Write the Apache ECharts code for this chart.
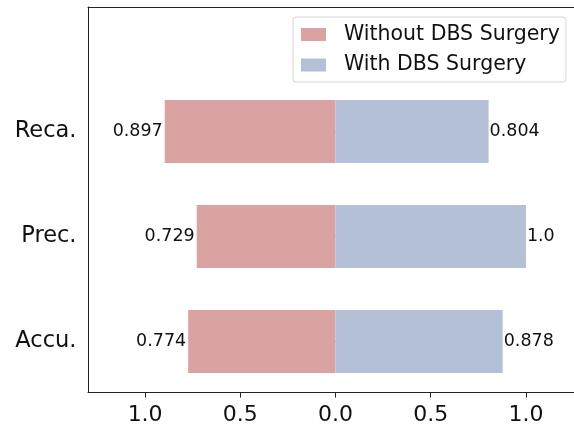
<!DOCTYPE html>
<html>
<head>
<meta charset="utf-8">
<script src="https://cdn.jsdelivr.net/npm/echarts@6/dist/echarts.min.js"></script>
<style>html,body{margin:0;padding:0;background:#fff;}#c{width:574px;height:426px;}</style>
</head>
<body>
<div id="c"></div>
<script>
var categories = ['Accu.', 'Prec.', 'Reca.'];
var withoutDBS = [0.774, 0.729, 0.897];
var withDBS = [0.878, 1.0, 0.804];
var xTicks = [-1, -0.5, 0, 0.5, 1];
var seriesNames = ['Without DBS Surgery', 'With DBS Surgery'];

var FONT = 'DejaVu Sans';
var X_MIN = -1.3, X_MAX = 1.2525;
function fmtVal(v) {
  v = Math.abs(v);
  var s = String(v);
  if (s.indexOf('.') < 0) s += '.0';
  return s;
}
var chart = echarts.init(document.getElementById('c'), null, {renderer: 'canvas'});
var axisLineStyle = {color: '#222', width: 1};
var option = {
  animation: false,
  backgroundColor: '#fff',
  textStyle: {fontFamily: FONT},
  legend: {
    orient: 'vertical',
    left: 293, top: 17,
    padding: [6.5, 6, 6, 8],
    itemWidth: 25, itemHeight: 13,
    itemGap: 8.5,
    backgroundColor: 'rgba(255,255,255,0.8)',
    borderColor: '#d6d6d6', borderWidth: 1, borderRadius: 3,
    icon: 'rect',
    textStyle: {fontFamily: FONT, fontSize: 20.5, color: '#111', lineHeight: 22, padding: [0, 0, 0, 13]},
    data: seriesNames
  },
  grid: [
    {left: 88, right: 0, top: 7, bottom: 32},
    {left: 88, right: 0, top: 79, bottom: 32}
  ],
  xAxis: [
    {gridIndex: 0, type: 'value', min: X_MIN, max: X_MAX, position: 'bottom',
     splitLine: {show: false}, axisLine: {show: true, onZero: false, lineStyle: axisLineStyle},
     axisTick: {show: true, length: 5, inside: false, customValues: xTicks, lineStyle: {color: '#222'}},
     axisLabel: {customValues: xTicks, fontFamily: FONT, fontSize: 22, color: '#111', margin: 11.5,
       formatter: function (v) { return Math.abs(v).toFixed(1); }}},
    {gridIndex: 0, type: 'value', min: X_MIN, max: X_MAX, position: 'top',
     splitLine: {show: false}, axisLine: {show: true, onZero: false, lineStyle: axisLineStyle},
     axisTick: {show: false}, axisLabel: {show: false}},
    {gridIndex: 1, type: 'value', min: X_MIN, max: X_MAX, show: false, splitLine: {show: false}}
  ],
  yAxis: [
    {gridIndex: 0, type: 'value', min: 0, max: 1, position: 'left',
     splitLine: {show: false}, axisLine: {show: true, onZero: false, lineStyle: axisLineStyle},
     axisTick: {show: false}, axisLabel: {show: false}},
    {gridIndex: 1, type: 'category', data: categories,
     axisLine: {show: false},
     axisTick: {show: true, alignWithLabel: true, length: 5, lineStyle: {color: '#222'}},
     axisLabel: {fontFamily: FONT, fontSize: 22.5, color: '#111', margin: 11.5, padding: [2, 0, 0, 0]}}
  ],
  series: [
    {name: seriesNames[0], type: 'bar', xAxisIndex: 2, yAxisIndex: 1,
     data: withoutDBS.map(function (v) { return -v; }),
     barWidth: 63, barGap: '-100%',
     itemStyle: {color: '#d8a3a2'},
     label: {show: true, position: 'left', distance: 2, fontFamily: FONT, fontSize: 17.5, color: '#111',
       formatter: function (p) { return fmtVal(p.value); }}},
    {name: seriesNames[1], type: 'bar', xAxisIndex: 2, yAxisIndex: 1,
     data: withDBS,
     barWidth: 63, barGap: '-100%',
     itemStyle: {color: '#b4c0d5'},
     label: {show: true, position: 'right', distance: 1, fontFamily: FONT, fontSize: 17.5, color: '#111',
       formatter: function (p) { return fmtVal(p.value); }}}
  ]
};
chart.setOption(option);
</script>
</body>
</html>
